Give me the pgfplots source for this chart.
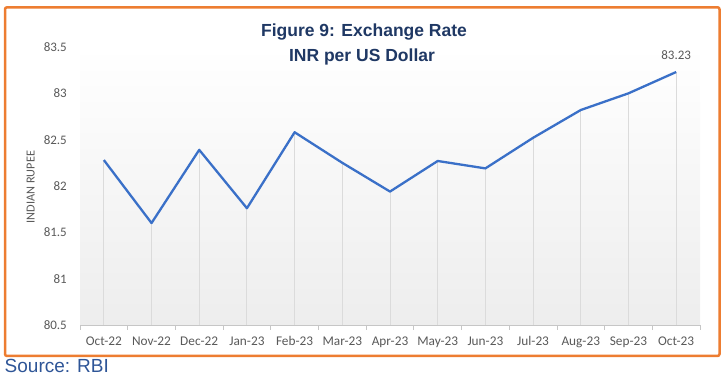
\documentclass[border=0pt]{standalone}
\usepackage{pgfplots}
\pgfplotsset{compat=1.18}
\usepackage{fontspec}
\setmainfont{Liberation Sans}
\newfontfamily\carlito{Carlito}
\definecolor{linecol}{HTML}{3A70C8}
\definecolor{titlecol}{HTML}{1F3864}
\definecolor{srccol}{HTML}{2E5597}
\definecolor{bordercol}{HTML}{ED7D31}
\definecolor{labcol}{HTML}{595959}
\begin{document}
\begin{tikzpicture}
\useasboundingbox (0bp,0bp) rectangle (722bp,387bp);
\draw[bordercol, line width=2.5bp, rounded corners=2bp] (5bp,31bp) rectangle (719.5bp,379.7bp);
\begin{axis}[
  at={(80bp,62bp)}, anchor=south west,
  scale only axis, width=620bp, height=278bp,
  xmin=-0.5, xmax=12.5, ymin=80.5, ymax=83.5,
  axis x line*=bottom, axis y line*=left,
  x axis line style={draw=gray!45, line width=0.8bp, -},
  y axis line style={draw=none, -},
  xtick={0,...,12},
  xticklabels={Oct-22,Nov-22,Dec-22,Jan-23,Feb-23,Mar-23,Apr-23,May-23,Jun-23,Jul-23,Aug-23,Sep-23,Oct-23},
  minor xtick={-0.5,0.5,...,12.5},
  major tick length=0pt, minor tick length=5bp, tick align=outside,
  every minor tick/.style={draw=gray!45, line width=0.8bp},
  ytick={80.5,81,...,83.5},
  yticklabels={80.5,81,81.5,82,82.5,83,83.5},
  ytick style={draw=none},
  xticklabel style={font=\carlito\fontsize{13.3bp}{15bp}\selectfont, text=labcol, anchor=base, inner sep=0pt, yshift=-21bp},
  yticklabel style={font=\carlito\fontsize{13bp}{15bp}\selectfont, text=labcol, anchor=east, inner sep=0pt, xshift=-13bp},
  axis background/.style={shade, top color=white, bottom color=black!7},
  clip=true,
]
\addplot[ycomb, draw=gray!28, line width=1bp, mark=none] coordinates {
(0,82.28) (1,81.60) (2,82.39) (3,81.76) (4,82.58) (5,82.25) (6,81.94) (7,82.27) (8,82.19) (9,82.52) (10,82.82) (11,83.00) (12,83.23)};
\addplot[draw=linecol, line width=2.3bp, mark=none, line join=round] coordinates {
(0,82.28) (1,81.60) (2,82.39) (3,81.76) (4,82.58) (5,82.25) (6,81.94) (7,82.27) (8,82.19) (9,82.52) (10,82.82) (11,83.00) (12,83.23)};
\addplot[draw=none, mark=none, nodes near coords, point meta=explicit symbolic,
  every node near coord/.style={font=\carlito\fontsize{13bp}{15bp}\selectfont, text=labcol, anchor=base, yshift=12.5bp}]
  coordinates {(12,83.23) [83.23]};
\end{axis}
\node[rotate=90, font=\carlito\fontsize{12.3bp}{14bp}\selectfont, text=labcol] at (30.7bp,200bp) {INDIAN RUPEE};
\node[anchor=base, font=\bfseries\fontsize{17.5bp}{20bp}\selectfont, text=titlecol] at (364bp,350.3bp) {Figure 9: Exchange Rate};
\node[anchor=base, font=\bfseries\fontsize{17.5bp}{20bp}\selectfont, text=titlecol] at (362bp,325.3bp) {INR per US Dollar};
\node[anchor=base west, inner sep=0pt, font=\fontsize{19bp}{22bp}\selectfont, text=srccol] at (4.5bp,14.7bp) {Source: RBI};
\end{tikzpicture}
\end{document}
